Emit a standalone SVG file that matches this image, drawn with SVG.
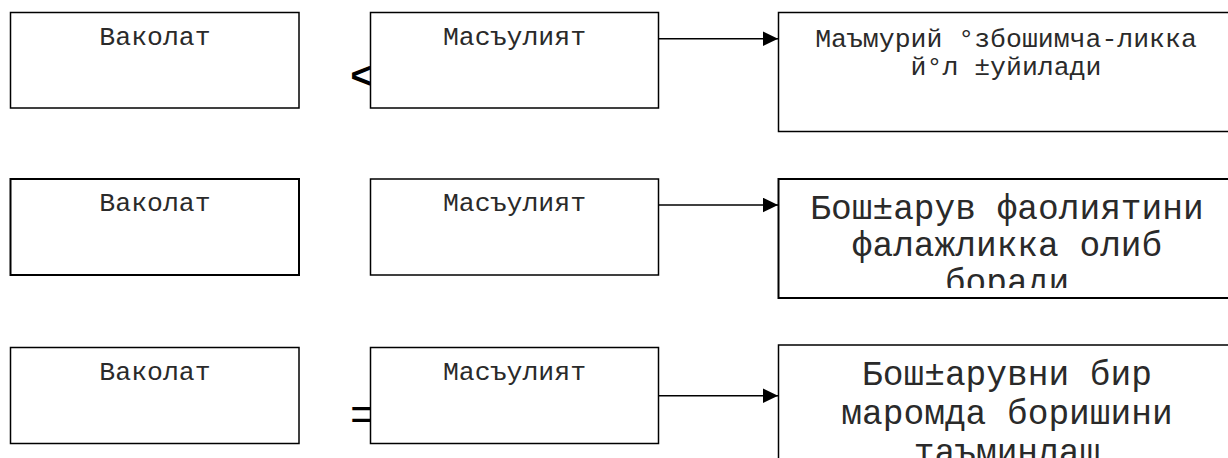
<svg xmlns="http://www.w3.org/2000/svg" width="1228" height="458" viewBox="0 0 1228 458">
  <style>
    .box { fill: #ffffff; stroke: #000000; stroke-width: 1.5; }
    .box2 { fill: #ffffff; stroke: #000000; stroke-width: 2; }
    .lbl { font-family: "Liberation Mono", "Courier New", monospace; font-size: 26.5px; fill: #2a2a2a; text-anchor: middle; }
    .big { font-family: "Liberation Mono", "Courier New", monospace; font-size: 34.5px; fill: #2a2a2a; text-anchor: middle; }
    .sym { font-family: "Liberation Sans", Arial, sans-serif; fill: #000000; }
    .edge { stroke: #000000; stroke-width: 1.6; fill: none; marker-end: url(#arrow); }
  </style>
  <defs>
    <marker id="arrow" markerWidth="16" markerHeight="16" refX="15.5" refY="7.5" orient="auto" markerUnits="userSpaceOnUse">
      <path d="M0,0 L15.5,7.5 L0,15 Z" fill="#000000"/>
    </marker>
    <clipPath id="clip-r2">
      <rect x="778" y="179" width="480" height="109"/>
    </clipPath>
  </defs>

  <rect width="1228" height="458" fill="#ffffff"/>

  <!-- relation signs between the first two columns -->
  <text class="sym" x="350.5" y="88" font-size="36" font-weight="bold">&lt;</text>
  <text class="sym" x="350" y="430" font-size="47">=</text>

  <!-- row 1 -->
  <g id="vakolat-1">
    <rect class="box" x="10.5" y="12.5" width="288.5" height="95.5"/>
    <text class="lbl" x="155" y="44.5">Ваколат</text>
  </g>
  <g id="masuliyat-1">
    <rect class="box" x="370.5" y="12.5" width="288" height="95.5"/>
    <text class="lbl" x="514.5" y="44.5">Масъулият</text>
  </g>
  <g id="result-1">
    <rect class="box" x="778.5" y="12.5" width="480" height="119"/>
    <text class="lbl" x="1006" y="47">Маъмурий °збошимча-ликка</text>
    <text class="lbl" x="1006" y="75">й°л ±уйилади</text>
  </g>

  <!-- row 2 -->
  <g id="vakolat-2">
    <rect class="box2" x="10.5" y="179" width="288.5" height="96"/>
    <text class="lbl" x="155" y="211">Ваколат</text>
  </g>
  <g id="masuliyat-2">
    <rect class="box" x="370.5" y="179" width="288" height="96"/>
    <text class="lbl" x="514.5" y="211">Масъулият</text>
  </g>
  <g id="result-2">
    <rect class="box2" x="778.5" y="179" width="480" height="119"/>
    <g clip-path="url(#clip-r2)">
      <text class="big" x="1007" y="218.5">Бош±арув фаолиятини</text>
      <text class="big" x="1007" y="255.5">фалажликка олиб</text>
      <text class="big" x="1007" y="292.5">боради</text>
    </g>
  </g>

  <!-- row 3 -->
  <g id="vakolat-3">
    <rect class="box" x="10.5" y="347.5" width="288.5" height="96"/>
    <text class="lbl" x="155" y="379.5">Ваколат</text>
  </g>
  <g id="masuliyat-3">
    <rect class="box" x="370.5" y="347.5" width="288" height="96"/>
    <text class="lbl" x="514.5" y="379.5">Масъулият</text>
  </g>
  <g id="result-3">
    <rect class="box" x="778.5" y="345" width="480" height="130"/>
    <text class="big" x="1007" y="384.5">Бош±арувни бир</text>
    <text class="big" x="1007" y="423.5">маромда боришини</text>
    <text class="big" x="1007" y="462.5">таъминлаш</text>
  </g>

  <!-- connectors -->
  <g id="connectors">
    <line class="edge" x1="658.5" y1="38.7" x2="778" y2="38.7"/>
    <line class="edge" x1="658.5" y1="205" x2="778" y2="205"/>
    <line class="edge" x1="658.5" y1="395.7" x2="778" y2="395.7"/>
  </g>
</svg>
